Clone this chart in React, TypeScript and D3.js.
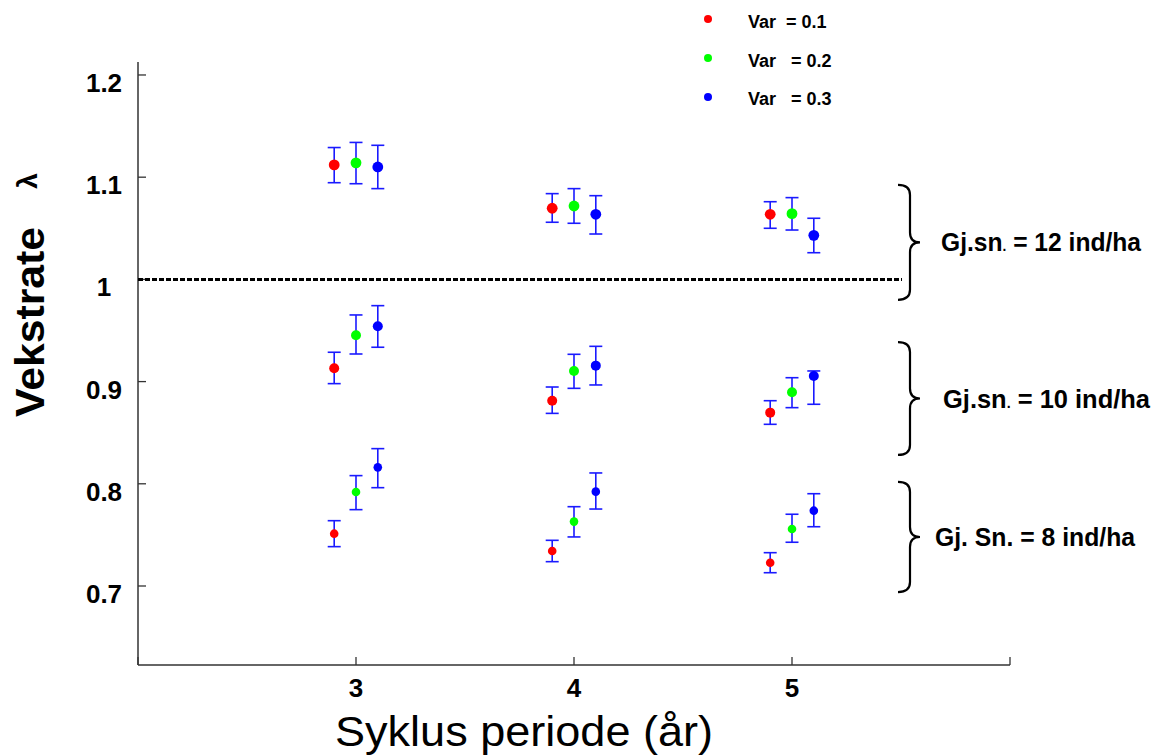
import React from "react";
import * as d3 from "d3";

// ---- data ----
const periods = [3, 4, 5];
const xTicks = [2, 3, 4, 5, 6];
const xTickLabels = ["", "3", "4", "5", ""];
const yTicks = [0.7, 0.8, 0.9, 1.0, 1.1, 1.2];
const yTickLabels = ["0.7", "0.8", "0.9", "1", "1.1", "1.2"];

const densities = ["d12", "d10", "d8"];
const densityLabels = ["Gj.sn. = 12 ind/ha", "Gj.sn. = 10 ind/ha", "Gj. Sn. = 8 ind/ha"];
const braceRanges = [
  [0.98, 1.0924],
  [0.8282, 0.9387],
  [0.6941, 0.8018],
];

const varianceLabels = ["Var  = 0.1", "Var   = 0.2", "Var   = 0.3"];
const varianceColors = ["#ff0000", "#00ff00", "#0000ff"];
const varianceOffsets = [-0.1, 0, 0.1];

// [period, density, mean, lower, upper]
const var01 = [
  [3, "d12", 1.112, 1.0946, 1.129],
  [4, "d12", 1.0696, 1.0559, 1.0839],
  [5, "d12", 1.0637, 1.05, 1.076],
  [3, "d10", 0.913, 0.898, 0.9287],
  [4, "d10", 0.8813, 0.8689, 0.8947],
  [5, "d10", 0.8696, 0.8582, 0.8813],
  [3, "d8", 0.7512, 0.7385, 0.7639],
  [4, "d8", 0.7342, 0.7238, 0.7447],
  [5, "d8", 0.7228, 0.713, 0.7326],
];
const var02 = [
  [3, "d12", 1.114, 1.0936, 1.134],
  [4, "d12", 1.0718, 1.0549, 1.0888],
  [5, "d12", 1.0643, 1.0483, 1.08],
  [3, "d10", 0.9453, 0.927, 0.9652],
  [4, "d10", 0.9104, 0.8934, 0.9267],
  [5, "d10", 0.8895, 0.8745, 0.9038],
  [3, "d8", 0.792, 0.7747, 0.808],
  [4, "d8", 0.763, 0.748, 0.7776],
  [5, "d8", 0.7558, 0.7428, 0.7702],
];
const var03 = [
  [3, "d12", 1.11, 1.0888, 1.1312],
  [4, "d12", 1.0637, 1.0444, 1.0819],
  [5, "d12", 1.0431, 1.0261, 1.0598],
  [3, "d10", 0.9541, 0.9336, 0.9743],
  [4, "d10", 0.9156, 0.8967, 0.9345],
  [5, "d10", 0.9055, 0.8778, 0.9104],
  [3, "d8", 0.8161, 0.7962, 0.8344],
  [4, "d8", 0.7923, 0.7753, 0.8106],
  [5, "d8", 0.7737, 0.758, 0.7903],
];
const series = [var01, var02, var03];

const FONT = "'Liberation Sans', Arial, Helvetica, sans-serif";

export default function App() {
  const W = 1154;
  const H = 755;
  const x = d3.scaleLinear().domain([2, 6]).range([138, 1010]);
  const y = d3.scaleLinear().domain([0.6227, 1.2127]).range([665, 62]);
  const [y0, y1] = y.domain();
  const axisColor = "#333";
  const errColor = "#1a1aff";
  const radius: Record<string, number> = { d12: 5.4, d10: 5, d8: 4.3 };
  const cap = 6.5;
  const braceX = 910;

  const bracePath = (top: number, bottom: number) => {
    const ym = (top + bottom) / 2;
    const c = 10;
    return `M${braceX - 12},${top} Q${braceX},${top} ${braceX},${top + c}
      L${braceX},${ym - c} Q${braceX},${ym} ${braceX + 10},${ym}
      Q${braceX},${ym} ${braceX},${ym + c}
      L${braceX},${bottom - c} Q${braceX},${bottom} ${braceX - 12},${bottom}`;
  };

  const labelX = [941, 943, 935];
  const labelW = [200, 207, 200];

  return (
    <svg
      width={W}
      height={H}
      style={{ position: "absolute", left: 0, top: 0, background: "#fff", fontFamily: FONT }}
    >
      <rect x={0} y={0} width={W} height={H} fill="#fff" />

      {/* y axis */}
      <line x1={x(2)} x2={x(2)} y1={y(y1)} y2={y(y0)} stroke={axisColor} strokeWidth={1.5} />
      {yTicks.map((t, i) => (
        <g key={"yt" + i}>
          <line x1={x(2)} x2={x(2) + 8} y1={y(t)} y2={y(t)} stroke={axisColor} strokeWidth={1.3} />
          <text x={104} y={y(t) + 17} textAnchor="middle" fontSize={26} fontWeight="bold" fill="#000">
            {yTickLabels[i]}
          </text>
        </g>
      ))}

      {/* x axis */}
      <line x1={x(2)} x2={x(6)} y1={y(y0)} y2={y(y0)} stroke={axisColor} strokeWidth={1.5} />
      {xTicks.map((t, i) => (
        <g key={"xt" + i}>
          <line x1={x(t)} x2={x(t)} y1={y(y0)} y2={y(y0) - 8} stroke={axisColor} strokeWidth={1.3} />
          <text x={x(t)} y={697} textAnchor="middle" fontSize={26} fontWeight="bold" fill="#000">
            {xTickLabels[i]}
          </text>
        </g>
      ))}

      {/* axis titles */}
      <text
        x={335}
        y={746}
        fontSize={43}
        textLength={378}
        lengthAdjust="spacingAndGlyphs"
        fill="#000"
      >
        Syklus periode (år)
      </text>
      <text
        transform={`translate(44, 322) rotate(-90)`}
        textAnchor="middle"
        fontSize={41}
        fontWeight="bold"
        textLength={190}
        lengthAdjust="spacingAndGlyphs"
        fill="#000"
      >
        Vekstrate
      </text>
      <text
        transform={`translate(37, 181) rotate(-90)`}
        textAnchor="middle"
        fontSize={28}
        fontWeight="bold"
        fill="#000"
      >
        λ
      </text>

      {/* reference line at 1 */}
      <line
        x1={x(2)}
        x2={902}
        y1={y(1)}
        y2={y(1)}
        stroke="#000"
        strokeWidth={3}
        strokeDasharray="5,2"
      />

      {/* braces and labels */}
      {braceRanges.map((r, i) => {
        const top = y(r[1]);
        const bottom = y(r[0]);
        const mid = (top + bottom) / 2;
        const lbl = densityLabels[i];
        const dotIdx = lbl.indexOf(". =");
        return (
          <g key={"br" + i}>
            <path d={bracePath(top, bottom)} fill="none" stroke="#000" strokeWidth={2.2} />
            <text
              x={labelX[i]}
              y={mid + 9}
              fontSize={25}
              fontWeight="bold"
              fill="#000"
              textLength={labelW[i]}
              lengthAdjust="spacingAndGlyphs"
              style={{ whiteSpace: "pre" }}
            >
              {dotIdx >= 0 && i < 2 ? (
                <>
                  {lbl.slice(0, dotIdx)}
                  <tspan fontSize={14}>.</tspan>
                  {lbl.slice(dotIdx + 1)}
                </>
              ) : (
                lbl
              )}
            </text>
          </g>
        );
      })}

      {/* error bars and points */}
      {series.map((s, si) =>
        s.map((d, di) => {
          const [p, dens, m, lo, hi] = d as [number, string, number, number, number];
          const cx = x(p + varianceOffsets[si]);
          return (
            <g key={`p${si}-${di}`}>
              <line x1={cx} x2={cx} y1={y(lo)} y2={y(hi)} stroke={errColor} strokeWidth={1.6} />
              <line x1={cx - cap} x2={cx + cap} y1={y(lo)} y2={y(lo)} stroke={errColor} strokeWidth={1.6} />
              <line x1={cx - cap} x2={cx + cap} y1={y(hi)} y2={y(hi)} stroke={errColor} strokeWidth={1.6} />
              <circle cx={cx} cy={y(m)} r={radius[dens]} fill={varianceColors[si]} />
            </g>
          );
        })
      )}

      {/* legend */}
      {varianceLabels.map((l, i) => (
        <g key={"lg" + i}>
          <circle cx={708} cy={19 + i * 39} r={4} fill={varianceColors[i]} />
          <text x={748} y={28 + i * 38.7} fontSize={18} fontWeight="bold" fill="#000" style={{ whiteSpace: "pre" }}>
            {l}
          </text>
        </g>
      ))}
    </svg>
  );
}
